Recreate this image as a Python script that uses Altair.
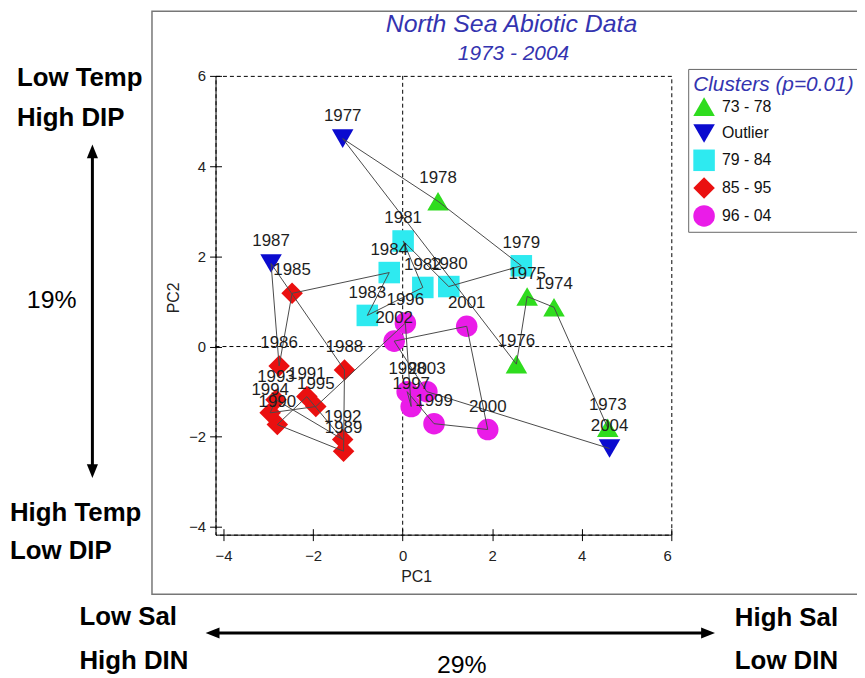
import altair as alt
import pandas as pd

FONT = "Liberation Sans, Arial, sans-serif"

years = list(range(1973, 2005))
pc1 = [4.58, 3.38, 2.78, 2.54, -1.34, 0.79, 2.65, 1.03, 0.01, 0.45, -0.79, -0.30,
       -2.47, -2.76, -2.94, -1.30, -1.32, -2.80, -2.14, -1.34, -2.83, -2.96, -1.94,
       0.06, 0.19, 0.10, 0.70, 1.90, 1.43, -0.19, 0.54, 4.62]
pc2 = [-1.80, 0.87, 1.11, -0.39, 4.61, 3.22, 1.79, 1.33, 2.34, 1.31, 0.69, 1.64,
       1.18, -0.43, 1.84, -0.52, -2.32, -1.73, -1.11, -2.06, -1.18, -1.47, -1.33,
       0.52, -1.33, -1.00, -1.71, -1.84, 0.45, 0.12, -1.00, -2.26]
cluster_of_year = (["73 - 78"] * 4 + ["Outlier"] + ["73 - 78"] + ["79 - 84"] * 6 +
                   ["85 - 95"] * 2 + ["Outlier"] + ["85 - 95"] * 8 + ["96 - 04"] * 8 +
                   ["Outlier"])

cluster_names = ["73 - 78", "Outlier", "79 - 84", "85 - 95", "96 - 04"]
cluster_colors = ["#2fdc1e", "#0b0bcf", "#2eeaf0", "#ea1010", "#ea1ce8"]
cluster_shapes = ["triangle-up", "triangle-down", "square", "diamond", "circle"]
cluster_sizes = [470, 470, 290, 400, 290]

x_ticks = [-4, -2, 0, 2, 4, 6]
y_ticks = [-4, -2, 0, 2, 4, 6]
x_domain = [-4.18, 6]
y_domain = [-4.17, 6]

df = pd.DataFrame({"year": years, "PC1": pc1, "PC2": pc2, "cluster": cluster_of_year,
                   "label": [str(y) for y in years]})
zero_df = pd.DataFrame({"v": [0]})
one = alt.Data(values=[{"a": 1}])

xs = alt.Scale(domain=x_domain, nice=False, zero=False)
ys = alt.Scale(domain=y_domain, nice=False, zero=False)

base = alt.Chart(df)

points = base.mark_point(filled=True, opacity=1, strokeWidth=0).encode(
    x=alt.X("PC1:Q", scale=xs,
            axis=alt.Axis(orient="bottom", values=x_ticks, title="PC1", titleX=202,
                          titleY=34, titleBaseline="top", tickSize=6, labelPadding=8)),
    y=alt.Y("PC2:Q", scale=ys,
            axis=alt.Axis(orient="left", values=y_ticks, title="PC2", titleX=-34,
                          titleY=223, tickSize=6, labelPadding=4)),
    color=alt.Color("cluster:N",
                    scale=alt.Scale(domain=cluster_names, range=cluster_colors),
                    legend=alt.Legend(title="Clusters (p=0.01)", orient="none",
                                      legendX=476, legendY=-7)),
    shape=alt.Shape("cluster:N",
                    scale=alt.Scale(domain=cluster_names, range=cluster_shapes)),
    size=alt.Size("cluster:N",
                  scale=alt.Scale(domain=cluster_names, range=cluster_sizes)),
)

lines = base.mark_line(color="#4a4a4a", strokeWidth=1).encode(
    x=alt.X("PC1:Q", scale=xs, axis=None),
    y=alt.Y("PC2:Q", scale=ys, axis=None),
    order="year:O",
)

labels = base.mark_text(dy=-23, fontSize=17, font=FONT, color="#1e1e1e").encode(
    x=alt.X("PC1:Q", scale=xs, axis=None),
    y=alt.Y("PC2:Q", scale=ys, axis=None),
    text="label:N",
)

vzero = alt.Chart(zero_df).mark_rule(color="black", strokeWidth=1, strokeDash=[4, 3]).encode(
    x=alt.X("v:Q", scale=xs,
            axis=alt.Axis(values=x_ticks, orient="bottom", offset=-6, tickSize=6,
                          labels=False, domain=False, title=None)),
)
hzero = alt.Chart(zero_df).mark_rule(color="black", strokeWidth=1, strokeDash=[4, 3]).encode(
    y=alt.Y("v:Q", scale=ys,
            axis=alt.Axis(values=y_ticks, orient="left", offset=-6, tickSize=6,
                          labels=False, domain=False, title=None)),
)

frame = alt.Chart(one).mark_rect(fill="white", fillOpacity=0, stroke="#777777",
                                 strokeWidth=1.5).encode(
    x=alt.value(-64), x2=alt.value(670), y=alt.value(-65), y2=alt.value(522))


def txt(s, x, y, size, bold=False, align="left", italic=False, color="black"):
    return alt.Chart(one).mark_text(
        text=s, fontSize=size, font=FONT, fontWeight="bold" if bold else "normal",
        fontStyle="italic" if italic else "normal", align=align, baseline="middle",
        color=color).encode(x=alt.value(x), y=alt.value(y))


def head(path, x, y):
    return alt.Chart(one).mark_point(shape=path, filled=True, size=196, color="black",
                                     opacity=1).encode(x=alt.value(x), y=alt.value(y))


TITLE_COLOR = "#3434b0"
annotations = [
    txt("North Sea Abiotic Data", 298, -52, 25, italic=True, align="center", color=TITLE_COLOR),
    txt("1973 - 2004", 300, -22, 21, italic=True, align="center", color=TITLE_COLOR),
    txt("Low Temp", -200, 2, 26, bold=True),
    txt("High DIP", -200, 42, 26, bold=True),
    txt("19%", -165, 226, 25, align="center"),
    txt("High Temp", -207, 440, 26, bold=True),
    txt("Low DIP", -207, 479, 26, bold=True),
    txt("Low Sal", -137, 545, 26, bold=True),
    txt("High DIN", -137, 589, 26, bold=True),
    txt("29%", 248, 593, 25, align="center"),
    txt("High Sal", 523, 546, 26, bold=True),
    txt("Low DIN", 523, 589, 26, bold=True),
    alt.Chart(one).mark_rule(color="black", strokeWidth=3).encode(
        x=alt.value(-124), y=alt.value(76), y2=alt.value(398)),
    head("M0,-1L-0.8,1L0.8,1Z", -124, 76),
    head("M0,1L-0.8,-1L0.8,-1Z", -124, 398),
    alt.Chart(one).mark_rule(color="black", strokeWidth=3).encode(
        x=alt.value(-3), x2=alt.value(496), y=alt.value(561)),
    head("M-1,0L1,-0.8L1,0.8Z", -3, 561),
    head("M1,0L-1,-0.8L-1,0.8Z", 496, 561),
]

chart = alt.layer(frame, vzero, hzero, points, lines, labels, *annotations).resolve_axis(
    x="independent", y="independent"
).properties(
    width=459, height=462,
    autosize=alt.AutoSizeParams(type="none"),
    padding={"left": 209, "top": 66, "right": 187, "bottom": 142},
).configure_view(
    stroke="black", strokeDash=[4, 3], strokeWidth=1
).configure_axis(
    grid=False, labelFont=FONT, labelFontSize=15, labelColor="#222222",
    titleFont=FONT, titleFontSize=16, titleFontWeight="normal", titleColor="#222222",
    tickColor="black", domainColor="black", domainWidth=1, tickWidth=1,
).configure_legend(
    padding=5, strokeColor="#666666", fillColor="white",
    titleFont=FONT, titleFontSize=21, titleFontStyle="italic", titleFontWeight="normal",
    titleColor=TITLE_COLOR, titlePadding=1, labelFont=FONT, labelFontSize=16,
    labelColor="#111111", rowPadding=6, labelOffset=7, symbolOpacity=1,
    symbolStrokeWidth=0, cornerRadius=0,
)

chart.save("out.html", embed_options={"renderer": "svg", "actions": False})
